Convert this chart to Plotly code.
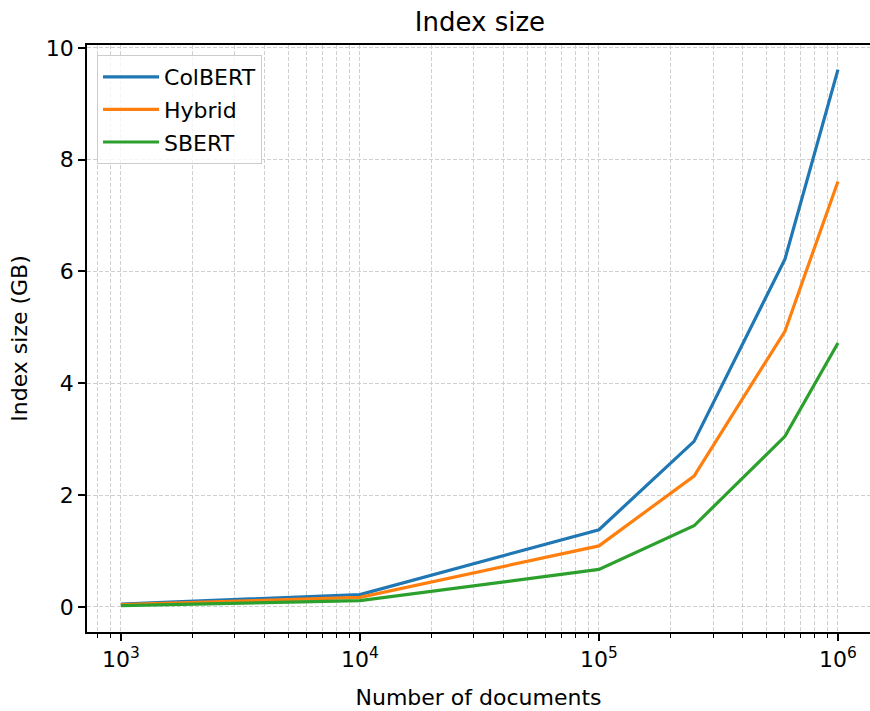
import plotly.graph_objects as go

# Number of documents indexed
docs = [1e3, 1e4, 1e5, 2.5e5, 6e5, 1e6]

# Index size in GB per retrieval model
colbert = [0.05, 0.22, 1.38, 2.96, 6.22, 9.61]
hybrid = [0.04, 0.17, 1.09, 2.34, 4.93, 7.61]
sbert = [0.02, 0.11, 0.67, 1.45, 3.05, 4.72]

series = [("ColBERT", colbert, "#1f77b4"),
          ("Hybrid", hybrid, "#ff7f0e"),
          ("SBERT", sbert, "#2ca02c")]

major_x = [1e3, 1e4, 1e5, 1e6]
major_x_text = ["10<sup>3</sup>", "10<sup>4</sup>", "10<sup>5</sup>", "10<sup>6</sup>"]
minor_x = [m * 10 ** e for e in range(2, 7) for m in range(2, 10)]
y_ticks = [0, 2, 4, 6, 8, 10]

fig = go.Figure()
for name, vals, color in series:
    fig.add_trace(go.Scatter(x=docs, y=vals, mode="lines", name=name,
                             legendgroup=name,
                             line=dict(color=color, width=3.2)))

font = "DejaVu Sans, Verdana, sans-serif"
grid = "#d0d0d0"
dash = "4px,2px"
fs = 22

fig.update_layout(
    width=870, height=711,
    margin=dict(l=87, r=0, t=45, b=79),
    paper_bgcolor="white", plot_bgcolor="white",
    font=dict(family=font, size=fs, color="black"),
    title=dict(text="Index size", x=0.5517, xanchor="center", y=1 - 22 / 711,
               yanchor="middle", font=dict(size=26, color="black")),
    showlegend=True,
    legend=dict(x=0.0128, y=0.983, xanchor="left", yanchor="top",
                bgcolor="rgba(255,255,255,0.8)", bordercolor="#cccccc",
                borderwidth=1, font=dict(size=fs, color="black"),
                itemwidth=56, tracegroupgap=1),
    xaxis=dict(
        type="log", range=[2.858, 6.134],
        title=dict(text="Number of documents", font=dict(size=fs), standoff=18),
        tickmode="array", tickvals=major_x, ticktext=major_x_text,
        ticks="outside", ticklen=7, tickwidth=1.6, tickcolor="black",
        tickfont=dict(size=fs),
        showline=True, linecolor="black", linewidth=1.6, mirror=True,
        showgrid=True, gridcolor=grid, griddash=dash, gridwidth=1,
        zeroline=False,
        minor=dict(tickmode="array", tickvals=minor_x, ticks="outside",
                   ticklen=4, tickwidth=1.2, tickcolor="black",
                   showgrid=True, gridcolor=grid, griddash=dash,
                   gridwidth=1),
    ),
    yaxis=dict(
        range=[-0.45, 10.05],
        title=dict(text="Index size (GB)", font=dict(size=fs), standoff=12),
        tickmode="array", tickvals=y_ticks,
        ticks="outside", ticklen=7, tickwidth=1.6, tickcolor="black",
        tickfont=dict(size=fs),
        showline=True, linecolor="black", linewidth=1.6, mirror=False,
        showgrid=True, gridcolor=grid, griddash=dash, gridwidth=1,
        zeroline=False,
    ),
)

fig.write_html("out.html")
